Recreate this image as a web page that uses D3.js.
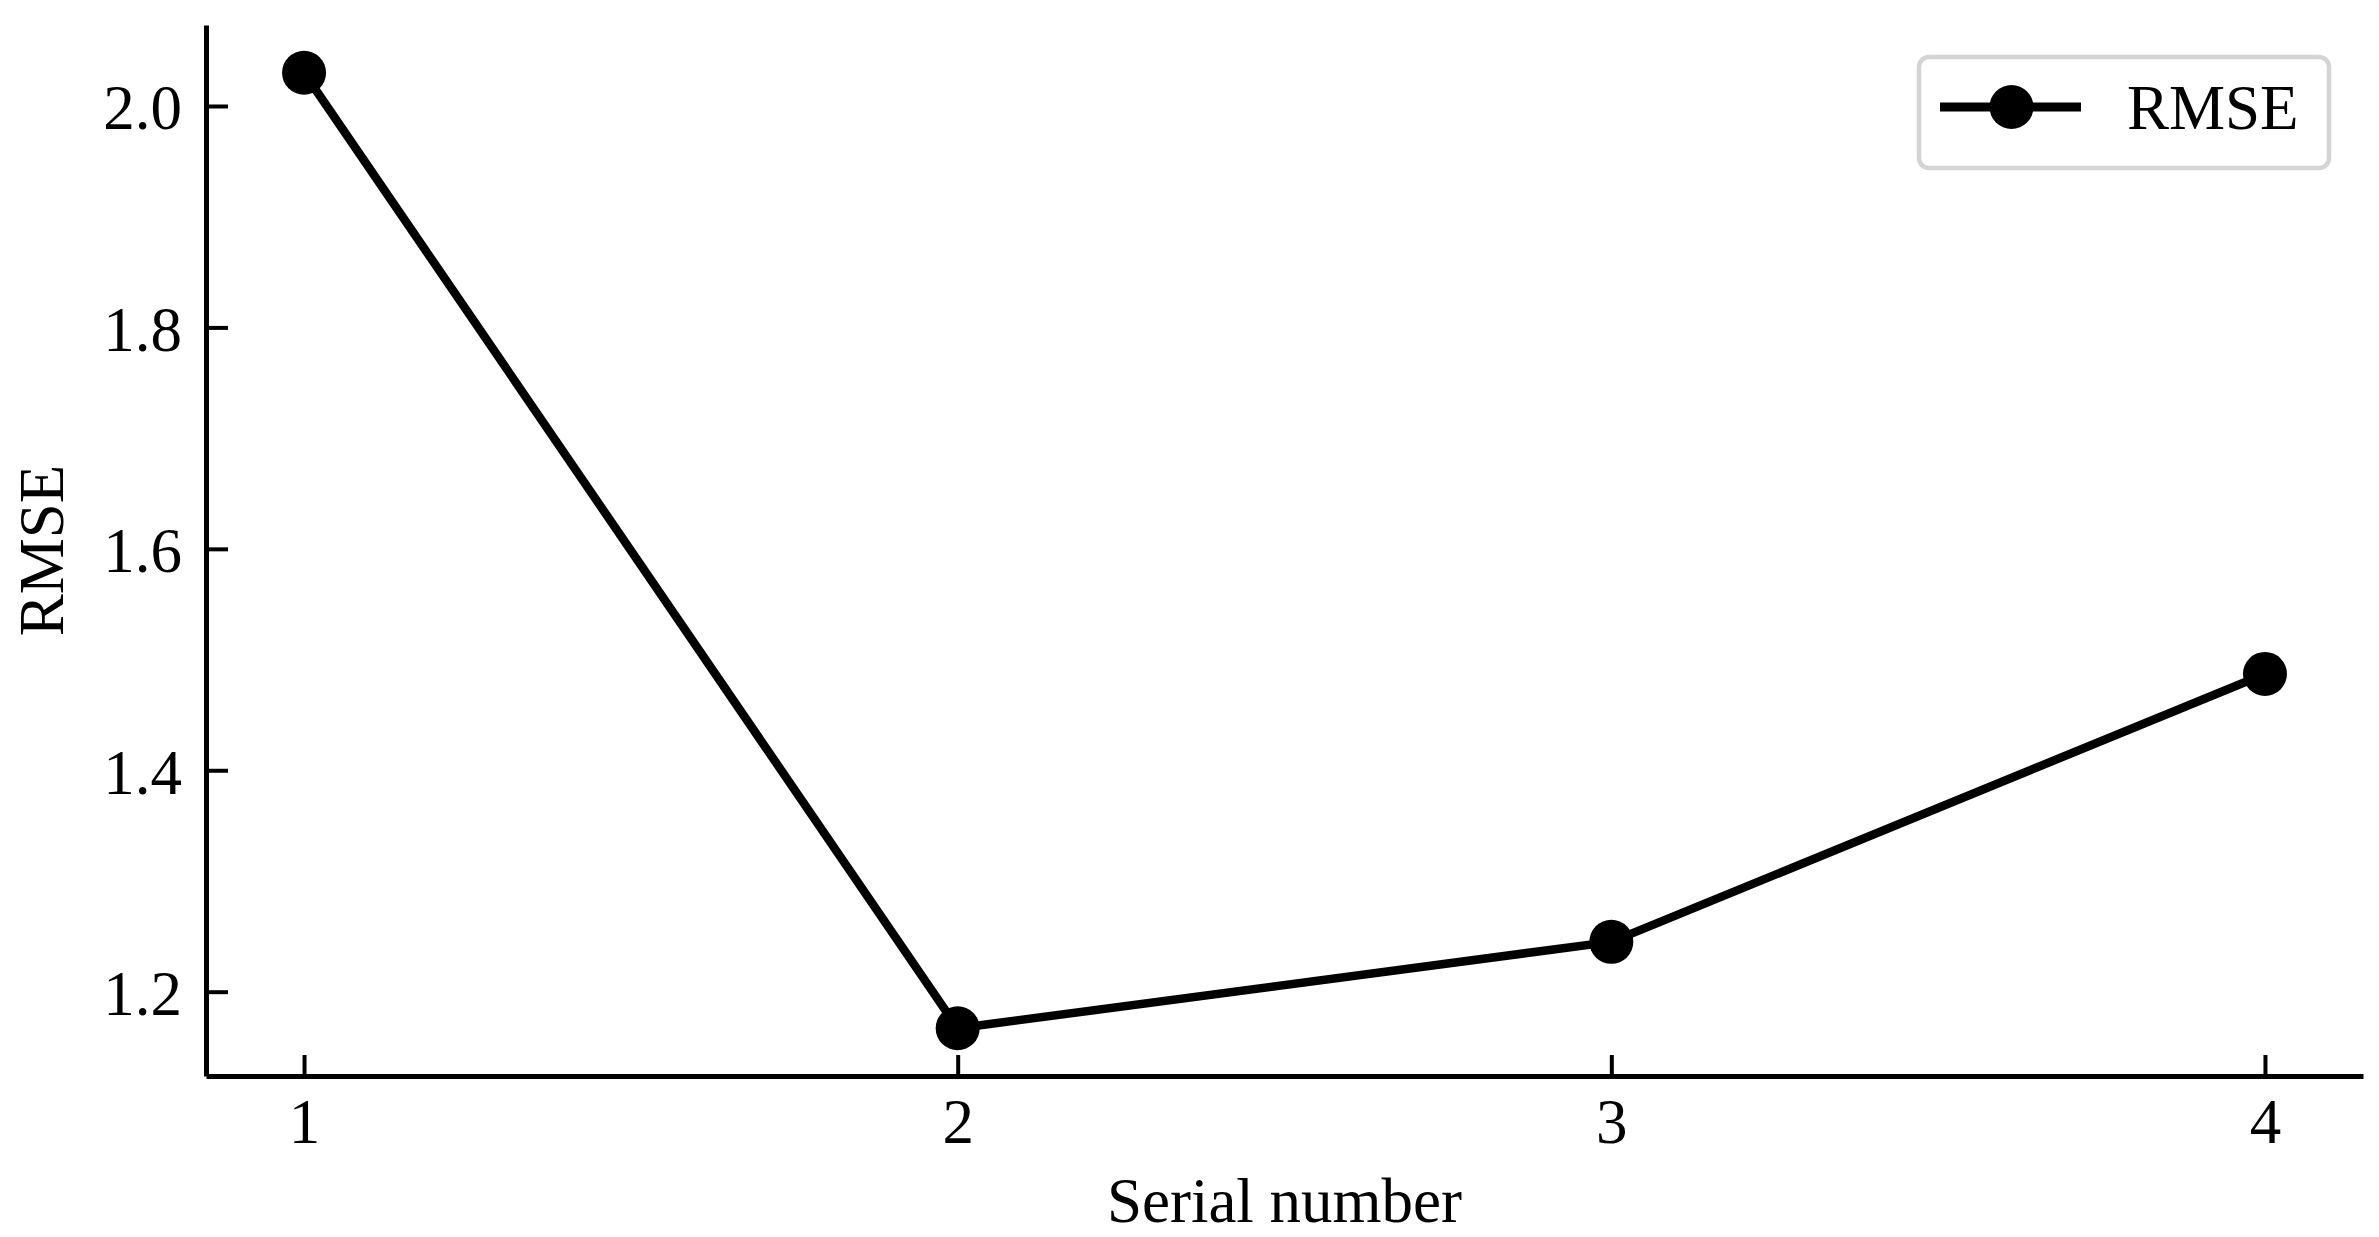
<!DOCTYPE html>
<html>
<head>
<meta charset="utf-8">
<script src="https://cdn.jsdelivr.net/npm/d3@7"></script>
<style>
  html, body { margin: 0; padding: 0; background: #fff; }
  svg { display: block; }
  text { font-family: "Liberation Serif", "Times New Roman", serif; fill: #000; }
</style>
</head>
<body>
<svg id="chart" width="2379" height="1237"></svg>
<script>
// ---- data ----
const serialNumbers = [1, 2, 3, 4];
const rmseValues = [2.030, 1.167, 1.245, 1.487];
const yTicks = [1.2, 1.4, 1.6, 1.8, 2.0];
const xTicks = [1, 2, 3, 4];
const seriesName = "RMSE";
const xTitle = "Serial number";
const yTitle = "RMSE";

// ---- layout ----
const W = 2379, H = 1237;
const m = { left: 206, top: 25, right: W - 2363, bottom: H - 1076 };
const iw = W - m.left - m.right, ih = H - m.top - m.bottom;
const FS = 63;

const svg = d3.select("#chart");
svg.append("rect").attr("width", W).attr("height", H).attr("fill", "#fff");
const g = svg.append("g").attr("transform", `translate(${m.left},${m.top})`);

// matplotlib-like 5% margins
const xExt = d3.extent(serialNumbers), yExt = d3.extent(rmseValues);
const xPad = (xExt[1] - xExt[0]) * 0.05, yPad = (yExt[1] - yExt[0]) * 0.05;
const x = d3.scaleLinear().domain([xExt[0] - xPad, xExt[1] + xPad]).range([0, iw]);
const y = d3.scaleLinear().domain([yExt[0] - yPad, yExt[1] + yPad]).range([ih, 0]);

// axes
const yAxis = d3.axisLeft(y).tickValues(yTicks).tickFormat(d3.format(".1f"))
  .tickSizeInner(-22).tickSizeOuter(0).tickPadding(24);
const xAxis = d3.axisBottom(x).tickValues(xTicks).tickFormat(d3.format("d"))
  .tickSizeInner(-21).tickSizeOuter(0).tickPadding(24);

const gy = g.append("g").call(yAxis);
const gx = g.append("g").attr("transform", `translate(0,${ih})`).call(xAxis);

[gx, gy].forEach(a => {
  a.select(".domain").attr("stroke", "#000").attr("stroke-width", 5);
  a.selectAll(".tick line").attr("stroke", "#000").attr("stroke-width", 4);
  a.selectAll(".tick text").attr("font-size", FS).attr("font-family", "Liberation Serif").attr("fill", "#000");
});
gy.selectAll(".tick text").attr("dy", null).attr("y", 23).attr("x", -24);
gx.selectAll(".tick text").attr("dy", null).attr("y", 67);

// axis titles
g.append("text").attr("x", iw / 2).attr("y", 1222 - m.top)
  .attr("text-anchor", "middle").attr("font-size", FS).text(xTitle);
g.append("text")
  .attr("transform", `translate(${63 - m.left},${ih / 2}) rotate(-90)`)
  .attr("text-anchor", "middle").attr("font-size", FS).text(yTitle);

// line + markers
const pts = serialNumbers.map((s, i) => ({ s, v: rmseValues[i] }));
const line = d3.line().x(d => x(d.s)).y(d => y(d.v));
g.append("path").datum(pts).attr("d", line)
  .attr("fill", "none").attr("stroke", "#000").attr("stroke-width", 8.5)
  .attr("stroke-linejoin", "round");
g.selectAll("circle.pt").data(pts).join("circle").attr("class", "pt")
  .attr("cx", d => x(d.s)).attr("cy", d => y(d.v)).attr("r", 22).attr("fill", "#000");

// legend
const lg = svg.append("g").attr("transform", "translate(1919,57)");
lg.append("rect").attr("width", 410).attr("height", 111).attr("rx", 10).attr("ry", 10)
  .attr("fill", "#fff").attr("fill-opacity", 0.8).attr("stroke", "#d4d4d4").attr("stroke-width", 4.5);
lg.append("line").attr("x1", 21).attr("x2", 162).attr("y1", 50).attr("y2", 50)
  .attr("stroke", "#000").attr("stroke-width", 9);
lg.append("circle").attr("cx", 92.5).attr("cy", 50).attr("r", 22).attr("fill", "#000");
lg.append("text").attr("x", 208).attr("y", 72).attr("font-size", FS).text(seriesName);
</script>
</body>
</html>
